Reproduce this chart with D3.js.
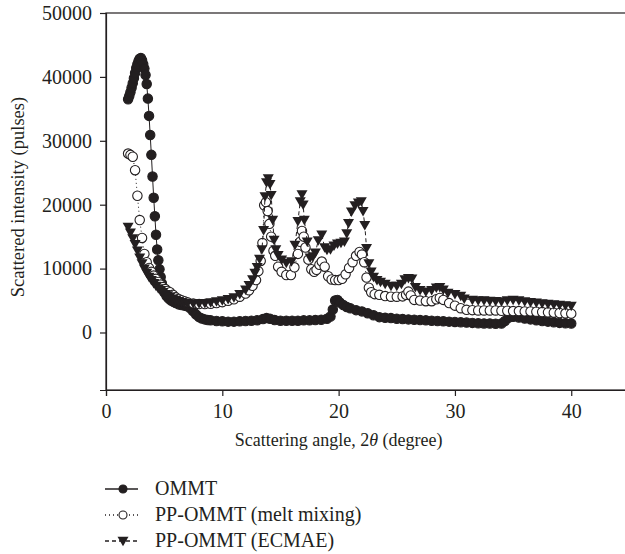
<!DOCTYPE html>
<html><head><meta charset="utf-8">
<script src="https://cdn.jsdelivr.net/npm/d3@7"></script>
<style>body{margin:0;background:#fff}svg{display:block}text{font-family:"Liberation Serif","DejaVu Serif",serif;fill:#231f20}</style>
</head><body><svg id="c" width="625" height="554"></svg>
<script>
const seriesNames = ["OMMT", "PP-OMMT (melt mixing)", "PP-OMMT (ECMAE)"];
const xTicks = [0, 10, 20, 30, 40];
const yTicks = [0, 10000, 20000, 30000, 40000, 50000];

const ommtX = [1.9,2.0,2.1,2.2,2.3,2.4,2.5,2.6,2.7,2.8,2.9,3.0,3.1,3.2,3.3,3.4,3.5,3.6,3.7,3.8,3.9,4.0,4.1,4.2,4.3,4.4,4.5,4.6,4.7,4.8,4.9,5.0,5.2,5.4,5.6,5.8,6.0,6.25,6.5,6.75,7.0,7.25,7.5,7.75,8.0,8.25,8.5,8.75,9.0,9.5,10,10.5,11,11.5,12,12.5,13,13.5,13.8,14.1,14.5,15,15.5,16,16.5,17,17.5,18,18.5,19,19.3,19.5,19.7,19.9,20.1,20.4,20.7,21,21.5,22,22.5,23,23.5,24,24.5,25,25.5,26,26.5,27,27.5,28,28.5,29,29.5,30,30.5,31,31.5,32,32.5,33,33.5,34,34.3,34.6,35,35.5,36,36.5,37,37.5,38,38.5,39,39.5,40];
const ommtY = [36500,37000,37600,38300,39000,39800,40600,41400,42000,42500,42850,42950,42600,42000,41300,40300,38900,36600,33900,30900,27800,24400,21100,18200,15300,13000,11300,9900,8700,7700,6900,6300,5700,5300,5000,4800,4600,4400,4300,4200,4100,3800,3300,2800,2400,2200,2050,1950,1900,1800,1750,1700,1700,1750,1800,1850,1900,2100,2250,2150,1950,1850,1850,1850,1850,1900,1900,1950,2000,2150,2500,3600,5000,5100,4700,4300,4000,3800,3500,3300,3000,2700,2400,2300,2250,2150,2100,2050,2000,1950,1900,1850,1800,1750,1700,1650,1600,1550,1500,1450,1420,1400,1380,1400,1800,2300,2450,2350,2200,2050,1900,1800,1700,1600,1500,1450,1400];

const meltX = [1.9,2.1,2.3,2.5,2.7,2.9,3.1,3.3,3.5,3.7,3.9,4.1,4.3,4.5,4.7,4.9,5.1,5.3,5.5,5.75,6.0,6.25,6.5,6.75,7.0,7.5,8.0,8.5,9.0,9.5,10,10.5,11,11.5,12,12.3,12.6,12.9,13.1,13.3,13.45,13.6,13.75,13.9,14.05,14.2,14.4,14.55,14.8,15.1,15.5,15.9,16.2,16.5,16.7,16.85,17.0,17.15,17.4,17.65,17.9,18.1,18.35,18.55,18.8,19.1,19.4,19.7,20.0,20.3,20.6,20.9,21.2,21.5,21.8,22.0,22.2,22.4,22.6,22.8,23.1,23.5,24,24.5,25,25.5,25.8,26.0,26.2,26.5,27,27.5,28,28.4,28.7,29,29.5,30,30.5,31,31.5,32,32.5,33,33.5,34,34.5,35,35.5,36,36.5,37,37.5,38,38.5,39,39.5,40];
const meltY = [28000,27800,27500,25400,21400,17600,14800,12300,11000,10100,9500,8900,8400,7900,7500,7100,6800,6500,6300,5900,5500,5250,5050,4900,4750,4550,4450,4450,4500,4600,4750,4950,5200,5600,6100,6600,7300,8200,9600,11200,14000,19900,20400,19000,17000,15000,12800,12000,10300,9500,9000,9000,10200,12300,14200,15900,15000,13300,11400,9900,9500,9800,10600,11100,10300,8800,8300,8200,8200,8400,9100,10100,11000,12000,12600,12200,11000,8600,7000,6300,6000,5900,5700,5600,5600,5650,5900,6400,5800,5100,5000,4900,4900,5200,5400,5100,4600,4200,3800,3550,3500,3450,3450,3450,3450,3400,3400,3350,3350,3300,3300,3250,3200,3150,3100,3050,3000,2950];

const ecmaeX = [1.9,2.1,2.3,2.5,2.7,2.9,3.1,3.3,3.5,3.7,3.9,4.1,4.3,4.5,4.7,4.9,5.1,5.3,5.5,5.75,6.0,6.25,6.5,6.75,7.0,7.5,8.0,8.5,9.0,9.5,10,10.5,11,11.5,12,12.3,12.6,12.8,13.0,13.2,13.4,13.55,13.67,13.8,13.95,14.1,14.2,14.33,14.45,14.6,14.8,15.1,15.5,15.95,16.25,16.5,16.7,16.85,16.95,17.05,17.3,17.55,17.8,18.0,18.25,18.55,18.8,19.0,19.3,19.6,19.9,20.2,20.5,20.7,20.85,21.1,21.4,21.7,21.95,22.1,22.25,22.4,22.6,22.8,23.0,23.3,23.6,24,24.5,25,25.4,25.7,26.0,26.3,26.6,27,27.5,28,28.4,28.7,29.0,29.4,30,30.5,30.8,31.5,32,32.5,33,33.5,34,34.5,35,35.5,36,36.5,37,37.5,38,38.5,39,39.5,40];
const ecmaeY = [16500,15600,14700,13800,12800,11700,10800,10000,9300,8700,8200,7700,7300,6900,6600,6300,6000,5800,5600,5300,5100,4900,4750,4650,4600,4550,4550,4600,4700,4850,5000,5200,5500,6000,6700,7400,8300,9300,10200,11500,13000,16000,21300,23500,24100,23200,21500,17600,14500,13000,12100,11400,10900,11100,13700,17400,20500,21600,20000,17600,14200,11700,11900,12500,14400,15300,13300,12900,13000,13600,13900,14000,14200,15500,17100,18900,19900,20300,20500,19000,16800,13200,10800,9500,8700,8200,7900,7600,7300,7300,7600,8300,8500,8400,7100,6600,6400,6600,7000,7100,6700,6200,6000,5700,5300,5100,5000,5000,4950,4900,4850,5000,5100,5000,4850,4750,4650,4550,4480,4400,4300,4220,4150];

const svg = d3.select("#c");
const L = 106, R = 629.4, T = 13, B = 390;
const x = d3.scaleLinear().domain([0, 45]).range([L, R]);
const y = d3.scaleLinear().domain([-9000, 50000]).range([B, T]);

svg.append("rect").attr("x", L).attr("y", T).attr("width", R - L).attr("height", B - T)
  .attr("fill", "none").attr("stroke", "#231f20").attr("stroke-width", 1.2);

const xa = svg.append("g").attr("transform", `translate(0,${B})`)
  .call(d3.axisBottom(x).tickValues(xTicks).tickSize(6).tickPadding(8).tickFormat(d3.format("d")));
const ya = svg.append("g").attr("transform", `translate(${L},0)`)
  .call(d3.axisLeft(y).tickValues(yTicks).tickSize(6).tickPadding(8).tickFormat(d3.format("d")));
[xa, ya].forEach(g => {
  g.select(".domain").attr("stroke", "#231f20").attr("stroke-width", 1.2);
  g.selectAll(".tick line").attr("stroke", "#231f20").attr("stroke-width", 1.2);
  g.selectAll("text").style("font-family", '"Liberation Serif", serif').style("font-size", "20px").attr("fill", "#231f20");
});

svg.append("text").attr("x", x(20)).attr("y", 446).attr("text-anchor", "middle").style("font-size", "18px")
  .html('Scattering angle, 2<tspan font-style="italic">θ</tspan> (degree)');
svg.append("text").attr("transform", "translate(24,197) rotate(-90)").attr("text-anchor", "middle").style("font-size", "18.5px")
  .text("Scattered intensity (pulses)");

const tri = "M-5.5,-4.2 L5.5,-4.2 L0,5.3 Z";
function series(xs, ys, dash, kind) {
  const pts = xs.map((v, i) => [v, ys[i]]);
  const line = d3.line().x(d => x(d[0])).y(d => y(d[1]));
  const g = svg.append("g");
  g.append("path").attr("d", line(pts)).attr("fill", "none").attr("stroke", "#231f20")
    .attr("stroke-width", 1).attr("stroke-dasharray", dash);
  if (kind === "tri") {
    g.selectAll("path.m").data(pts).enter().append("path").attr("class", "m").attr("d", tri)
      .attr("transform", d => `translate(${x(d[0])},${y(d[1])})`).attr("fill", "#231f20");
  } else {
    g.selectAll("circle").data(pts).enter().append("circle")
      .attr("cx", d => x(d[0])).attr("cy", d => y(d[1])).attr("r", 4.7)
      .attr("fill", kind === "open" ? "#fff" : "#231f20").attr("stroke", "#231f20").attr("stroke-width", 1.1);
  }
}
series(ommtX, ommtY, null, "fill");
series(meltX, meltY, "1,3", "open");
series(ecmaeX, ecmaeY, "4,3", "tri");

const lg = svg.append("g");
const rows = [495, 521, 547];
const kinds = [["fill", null], ["open", "1,3"], ["tri", "4,3"]];
seriesNames.forEach((n, i) => {
  const yy = rows[i] - 6;
  lg.append("line").attr("x1", 105).attr("x2", 138).attr("y1", yy).attr("y2", yy)
    .attr("stroke", "#231f20").attr("stroke-width", 1.3).attr("stroke-dasharray", kinds[i][1]);
  if (kinds[i][0] === "tri") {
    lg.append("path").attr("d", tri).attr("transform", `translate(123,${yy})`).attr("fill", "#231f20");
  } else {
    lg.append("circle").attr("cx", 123).attr("cy", yy).attr("r", 4)
      .attr("fill", kinds[i][0] === "open" ? "#fff" : "#231f20").attr("stroke", "#231f20").attr("stroke-width", 1.1);
  }
  lg.append("text").attr("x", 155).attr("y", rows[i]).style("font-size", "20px").text(n);
});
</script></body></html>
